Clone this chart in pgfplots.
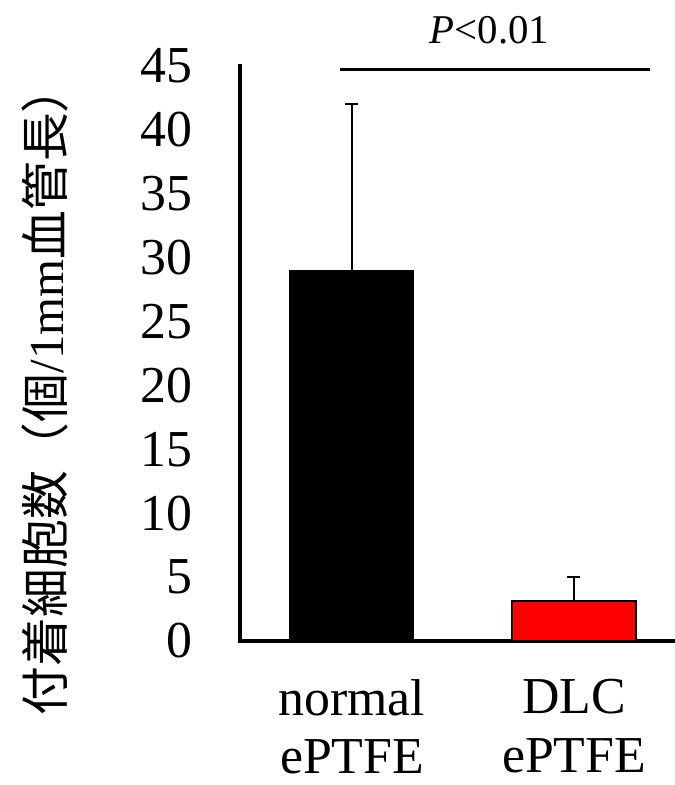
\documentclass[border=0pt]{standalone}
\usepackage{fontspec}
\setmainfont{Liberation Serif}
\newfontfamily\cjk{Noto Sans CJK JP}
\usepackage{pgfplots}
\pgfplotsset{compat=1.18}
\begin{document}
\begin{tikzpicture}
\useasboundingbox (-240bp,-144bp) rectangle (435bp,641bp);
\begin{axis}[
  at={(0,0)}, anchor=south west,
  scale only axis, width=435bp, height=575bp,
  xmin=-0.5045, xmax=1.455, ymin=0, ymax=45,
  axis lines*=left,
  axis line style={line width=3.3bp, line cap=rect},
  clip=false,
  ytick={0,5,...,45},
  xtick={0,1},
  xticklabels={{normal\\ePTFE},{DLC\\ePTFE}},
  major tick length=0pt,
  /pgf/number format/assume math mode=true,
  yticklabel style={font=\fontsize{52}{60}\selectfont, inner sep=0pt, anchor=east, xshift=-47bp},
  xticklabel style={font=\fontsize{52}{59}\selectfont, align=center, inner sep=0pt, anchor=north, yshift=-38bp},
  ylabel={{\cjk 付着細胞数（個}/1mm{\cjk 血管長）}},
  ylabel style={at={(axis description cs:-0.448,0.437)}, anchor=center, font=\fontsize{49}{52}\selectfont, inner sep=0pt},
  ybar, bar width=124bp, bar shift=0pt,
]
\addplot[fill=black, draw=black, line width=1bp,
  error bars/.cd, y dir=plus, y explicit,
  error bar style={line width=2.2bp, black},
  error mark options={rotate=90, mark size=6.5bp, line width=2.2bp, black}]
  coordinates {(0,29) +- (0,13)};
\addplot[fill=red, draw=black, line width=2bp,
  error bars/.cd, y dir=plus, y explicit,
  error bar style={line width=2.2bp, black},
  error mark options={rotate=90, mark size=6.5bp, line width=2.2bp, black}]
  coordinates {(1,3.1) +- (0,1.9)};
\draw[line width=3.3bp] (axis cs:-0.054,44.7) -- (axis cs:1.342,44.7);
\node[font=\fontsize{41}{48}\selectfont, anchor=center] at (axis cs:0.62,47.8) {\textit{P}<0.01};
\end{axis}
\end{tikzpicture}
\end{document}
